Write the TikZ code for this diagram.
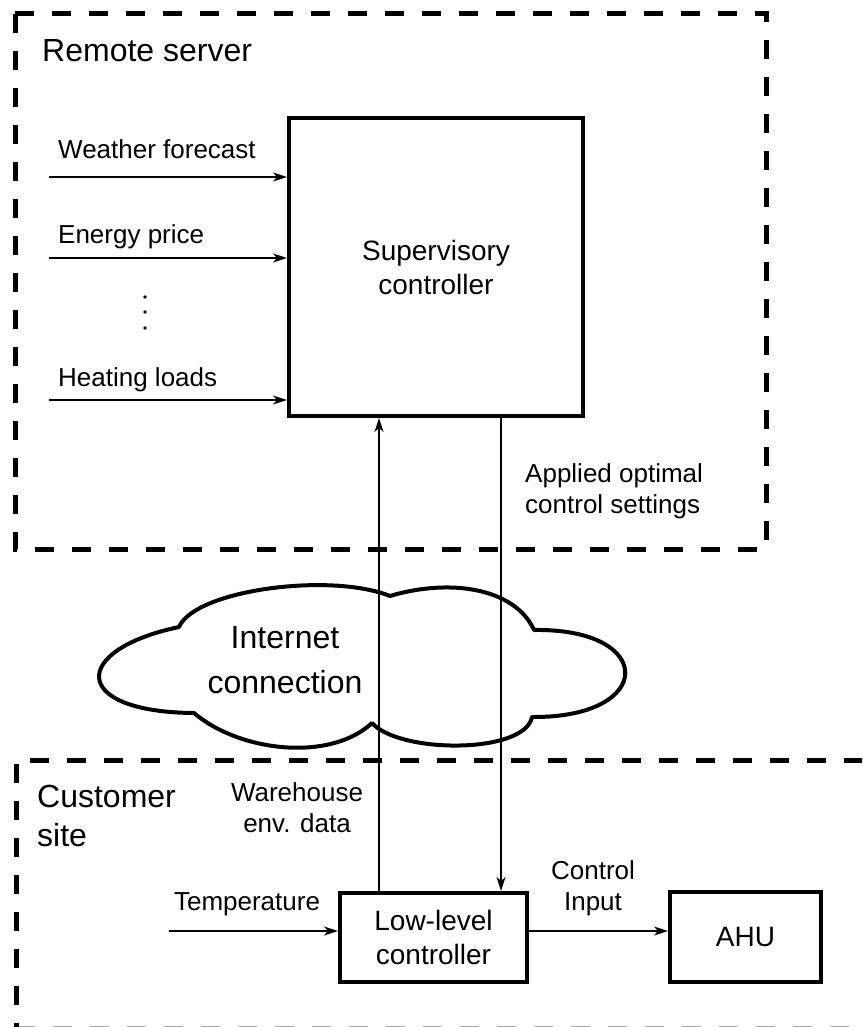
\documentclass[tikz,border=0pt]{standalone}
\usepackage{fontspec}
\setmainfont{Liberation Sans}
\usetikzlibrary{arrows.meta}

\begin{document}
\begin{tikzpicture}[x=1pt,y=-1pt,
    pfeil/.style={line width=1.6pt,-{Stealth[length=14pt,width=9pt,inset=4pt]}},
    block/.style={draw,line width=4pt,inner sep=0pt,align=center,font=\fontsize{28}{34}\selectfont},
    rahmen/.style={line width=5pt,dash pattern=on 19pt off 18pt},
    beschr/.style={inner sep=0pt,font=\fontsize{26}{31}\selectfont},
    titel/.style={inner sep=0pt,align=left,font=\fontsize{32}{39}\selectfont}]
  \useasboundingbox (0,0) rectangle (862,1027);
  \clip (0,0) rectangle (862,1027);
  % Rahmen
  \draw[rahmen] (15,14) rectangle (766,549);
  \draw[rahmen,black!35] (16,1028) -- (900,1028);
  \draw[rahmen] (900,760) -- (16,760) -- (16,1028);
  \node[titel,anchor=base west] (server) at (42,62) {Remote server};
  \node[titel,anchor=west] (kunde) at (37,816) {Customer\\site};
  % Bloecke
  \node[block,minimum width=294pt,minimum height=298pt] (sup) at (436,267) {Supervisory\\controller};
  \node[block,minimum width=187pt,minimum height=89pt] (low) at (433.5,937.5) {Low-level\\controller};
  \node[block,minimum width=151pt,minimum height=90pt] (ahu) at (745.5,937) {AHU};
  % Eingaenge
  \foreach \n/\y in {1/177,2/258,3/400} {
    \coordinate (w\n) at (49,\y);
    \draw[pfeil] (w\n) -- (w\n -| sup.west);
  }
  \node[beschr,anchor=base west] (wetter) at (58,159) {Weather forecast};
  \node[beschr,anchor=base west] (preis) at (58,243) {Energy price};
  \node[beschr,anchor=base west] (last) at (58,386) {Heating loads};
  \foreach \y in {297,312,328} {
    \fill (145,\y) circle (1.8);
  }
  % Wolke
  \draw[line width=4pt,line join=round] (179,627)
    .. controls (195,590) and (330,572) .. (390,596)
    .. controls (450,578) and (515,588) .. (534,630)
    .. controls (656,628) and (656,718) .. (532,717)
    .. controls (525,754) and (400,754) .. (372,723)
    .. controls (330,762) and (240,752) .. (194,713)
    .. controls (70,712) and (70,650) .. cycle;
  \node[inner sep=0pt,align=center,font=\fontsize{32}{45}\selectfont] (netz) at (285,660) {Internet\\connection};
  % Verbindungen
  \coordinate (hoch) at (379,0);
  \coordinate (runter) at (501,0);
  \draw[pfeil] (hoch |- low.north) -- (hoch |- sup.south);
  \draw[pfeil] (runter |- sup.south) -- (runter |- low.north);
  \node[beschr,anchor=west,align=left] (applied) at (525,491) {Applied optimal\\control settings};
  \node[beschr,align=center] (daten) at (297,807.5) {Warehouse\\env. data};
  \coordinate (temp) at (169,931);
  \draw[pfeil] (temp) -- (temp -| low.west);
  \node[beschr,anchor=base] (temptxt) at (247,910) {Temperature};
  \coordinate (stell) at (0,931);
  \draw[pfeil] (stell -| low.east) -- (stell -| ahu.west);
  \node[beschr,align=center] (input) at (593,888) {Control\\Input};
\end{tikzpicture}
\end{document}
